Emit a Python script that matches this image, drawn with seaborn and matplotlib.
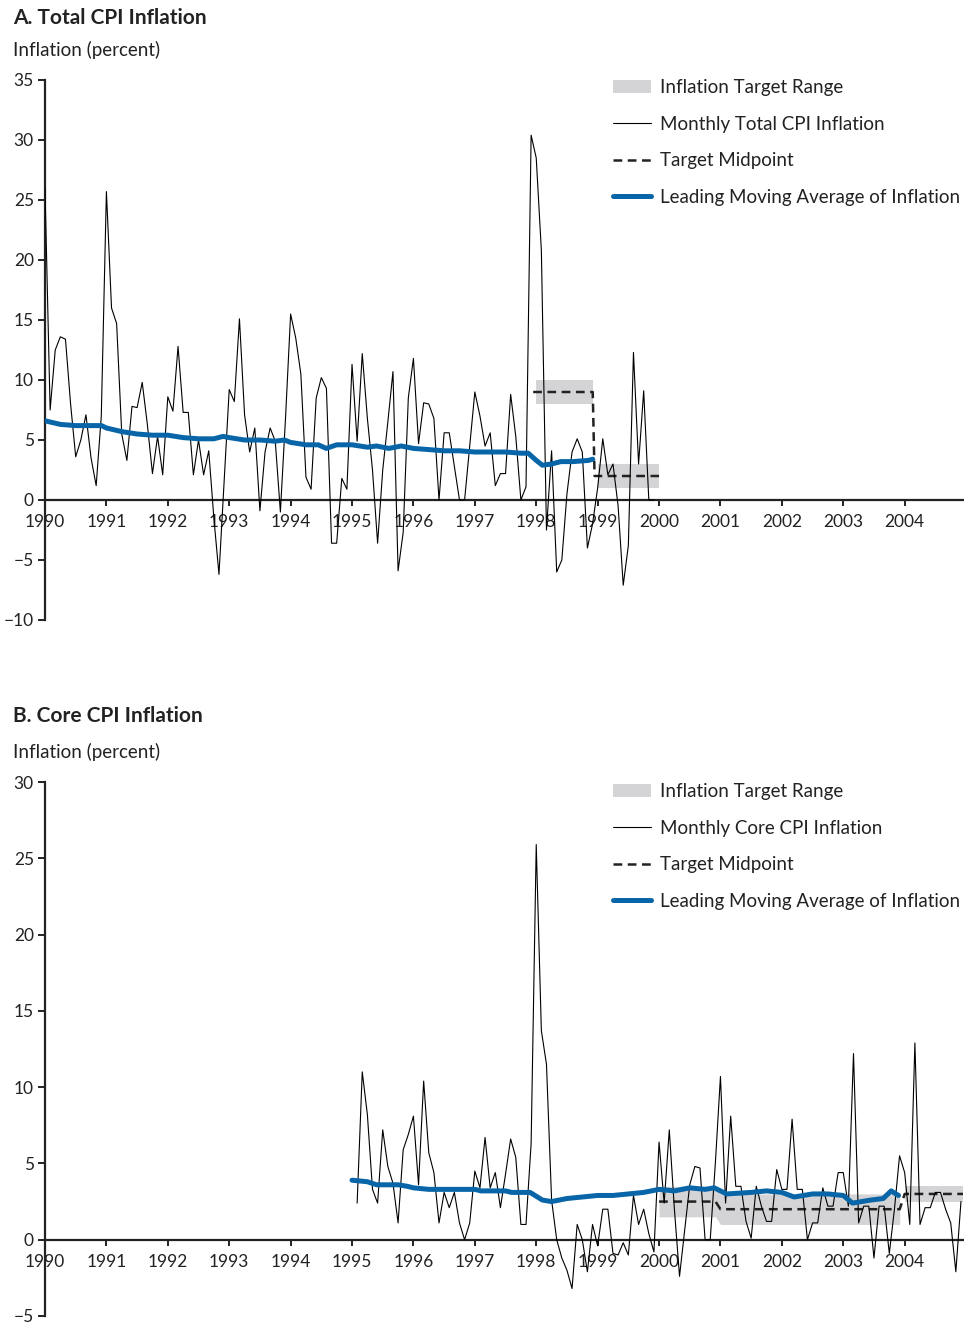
import numpy as np
import matplotlib
matplotlib.use("Agg")
import matplotlib.pyplot as plt
import seaborn as sns
from matplotlib.patches import Patch
from matplotlib.lines import Line2D

# -----------------------------
# Panel A: total CPI, monthly from Jan 1990
# -----------------------------
total_start = 1990.0
total_cpi = [
    26.0, 7.5, 12.5, 13.6, 13.4, 8.0, 3.6, 5.0, 7.1, 3.5, 1.2, 7.0,
    25.7, 16.0, 14.7, 5.5, 3.3, 7.8, 7.7, 9.8, 6.3, 2.2, 5.3, 2.1,
    8.6, 7.4, 12.8, 7.3, 7.3, 2.1, 5.0, 2.1, 4.1, -1.5, -6.2, 1.5,
    9.2, 8.2, 15.1, 7.1, 4.0, 6.0, -0.9, 4.0, 6.0, 4.9, -1.0, 6.8,
    15.5, 13.5, 10.5, 1.9, 0.9, 8.5, 10.2, 9.3, -3.6, -3.6, 1.8, 0.9,
    11.3, 4.9, 12.2, 6.8, 2.5, -3.6, 2.5, 6.5, 10.7, -5.9, -2.7, 8.5,
    11.8, 4.7, 8.1, 8.0, 6.8, 0.0, 5.6, 5.6, 2.8, 0.0, 0.0, 4.5,
    9.0, 7.0, 4.5, 5.6, 1.2, 2.2, 2.2, 8.8, 5.3, 0.0, 1.1, 30.4,
    28.5, 20.8, -2.5, 4.1, -6.0, -5.0, 0.5, 4.0, 5.1, 4.0, -4.0, -2.0,
    1.0, 5.1, 2.1, 3.0, -0.5, -7.1, -3.8, 12.3, 3.0, 9.1, 0.0, 0.0,
]

total_ma_x = [1990.0, 1990.25, 1990.5, 1990.75, 1990.92, 1991.0, 1991.25, 1991.5,
              1991.75, 1992.0, 1992.25, 1992.5, 1992.75, 1992.9, 1993.0, 1993.25,
              1993.5, 1993.75, 1993.9, 1994.0, 1994.25, 1994.45, 1994.58, 1994.75,
              1995.0, 1995.25, 1995.4, 1995.6, 1995.8, 1996.0, 1996.25, 1996.5,
              1996.75, 1997.0, 1997.25, 1997.5, 1997.75, 1997.87, 1998.0, 1998.1,
              1998.25, 1998.4, 1998.6, 1998.85, 1998.92]
total_ma = [6.6, 6.3, 6.2, 6.2, 6.2, 6.0, 5.7, 5.5,
            5.4, 5.4, 5.2, 5.1, 5.1, 5.3, 5.2, 5.0,
            5.0, 4.9, 5.0, 4.8, 4.6, 4.6, 4.3, 4.6,
            4.6, 4.4, 4.5, 4.3, 4.5, 4.3, 4.2, 4.1,
            4.1, 4.0, 4.0, 4.0, 3.9, 3.9, 3.3, 2.9,
            3.0, 3.2, 3.2, 3.3, 3.4]

total_band_x = [[1998.0, 1998.92], [1999.0, 2000.0]]
total_band_lo = [[8.0, 8.0], [1.0, 1.0]]
total_band_hi = [[10.0, 10.0], [3.0, 3.0]]
total_mid_x = [1997.95, 1998.92, 1998.95, 2000.0]
total_mid = [9.0, 9.0, 2.0, 2.0]

# -----------------------------
# Panel B: core CPI, monthly from Feb 1995
# -----------------------------
core_start = 1995.0 + 1 / 12
core_cpi = [
    2.4, 11.0, 8.2, 3.3, 2.4, 7.2, 4.8, 3.7, 1.1, 5.9, 6.9,
    8.1, 3.6, 10.4, 5.7, 4.4, 1.1, 3.1, 2.1, 3.1, 1.1, 0.0, 1.1,
    4.5, 3.4, 6.7, 3.4, 4.4, 2.1, 4.3, 6.6, 5.4, 1.0, 1.0, 6.3,
    25.9, 13.7, 11.5, 2.6, 0.0, -1.2, -2.0, -3.2, 1.0, 0.0, -2.1, 1.0,
    -0.4, 2.0, 2.0, -0.9, -1.0, -0.2, -1.0, 2.9, 1.0, 2.0, 0.4, -0.8,
    6.4, 2.4, 7.2, 2.0, -2.4, 0.6, 3.6, 4.8, 4.7, 0.0, 0.0, 5.0,
    10.7, 2.4, 8.1, 3.5, 3.5, 1.2, 0.1, 3.5, 2.2, 1.2, 1.2, 4.6,
    3.3, 3.3, 7.9, 3.3, 3.3, 0.0, 1.1, 1.1, 3.4, 2.2, 2.2, 4.4,
    4.4, 2.2, 12.2, 1.1, 2.2, 2.2, -1.2, 2.2, 2.2, -0.9, 2.0, 5.5,
    4.4, 1.0, 12.9, 1.0, 2.1, 2.1, 3.1, 3.1, 2.0, 1.1, -2.1, 2.5,
]

core_ma_x = [1995.0, 1995.25, 1995.4, 1995.75, 1995.9, 1996.0, 1996.25, 1996.5,
             1996.75, 1997.0, 1997.1, 1997.5, 1997.6, 1997.9, 1998.1, 1998.25,
             1998.5, 1998.75, 1999.0, 1999.25, 1999.5, 1999.75, 2000.0, 2000.25,
             2000.5, 2000.75, 2000.9, 2001.1, 2001.5, 2001.75, 2002.0, 2002.2,
             2002.5, 2002.75, 2003.0, 2003.15, 2003.45, 2003.65, 2003.78, 2003.9]
core_ma = [3.9, 3.8, 3.6, 3.6, 3.5, 3.4, 3.3, 3.3,
           3.3, 3.3, 3.2, 3.2, 3.1, 3.1, 2.6, 2.5,
           2.7, 2.8, 2.9, 2.9, 3.0, 3.1, 3.3, 3.2,
           3.4, 3.3, 3.4, 3.0, 3.1, 3.2, 3.1, 2.8,
           3.0, 3.0, 2.9, 2.4, 2.6, 2.7, 3.2, 2.9]

core_band_x = [[2000.0, 2000.92, 2001.0, 2003.92], [2004.0, 2004.95]]
core_band_lo = [[1.5, 1.5, 1.0, 1.0], [2.5, 2.5]]
core_band_hi = [[3.5, 3.5, 3.0, 3.0], [3.5, 3.5]]
core_mid_x = [2000.0, 2000.92, 2001.0, 2003.92, 2004.0, 2004.95]
core_mid = [2.5, 2.5, 2.0, 2.0, 3.0, 3.0]

years = list(range(1990, 2005))

# -----------------------------
# Styling
# -----------------------------
sns.set_style("white")
plt.rcParams['font.family'] = ['Lato', 'DejaVu Sans']

BLUE = '#0866a8'
GRAY = '#d4d4d6'
INK = '#222222'

fig = plt.figure(figsize=(9.64, 13.23), dpi=100)
W, H = 964, 1323


def fig_axes(left, right, top, bottom):
    return fig.add_axes([left / W, 1 - bottom / H, (right - left) / W, (bottom - top) / H])


def draw_panel(ax, start, monthly, ma_x, ma, band_x, band_lo, band_hi, mid_x, mid,
               ylim, yticks, line_label):
    for bx, lo, hi in zip(band_x, band_lo, band_hi):
        ax.fill_between(bx, lo, hi, color=GRAY, lw=0, zorder=1)
    mx = start + np.arange(len(monthly)) / 12
    sns.lineplot(x=mx, y=monthly, ax=ax, color='black', lw=0.8, estimator=None, zorder=3)
    sns.lineplot(x=mid_x, y=mid, ax=ax, color=INK, lw=1.8, estimator=None,
                 zorder=2, linestyle=(0, (3.5, 2.2)))
    sns.lineplot(x=ma_x, y=ma, ax=ax, color=BLUE, lw=3.6, estimator=None, zorder=4,
                 solid_capstyle='round')

    ax.set_xlim(1990, 2004.95)
    ax.set_ylim(*ylim)
    ax.set_yticks(yticks)
    ax.set_xticks(years)
    ax.set_xticklabels([str(y) for y in years])
    for s in ['top', 'right']:
        ax.spines[s].set_visible(False)
    ax.spines['bottom'].set_position(('data', 0))
    for s in ['bottom', 'left']:
        ax.spines[s].set_linewidth(1.6)
        ax.spines[s].set_color(INK)
    ax.tick_params(axis='y', direction='out', length=5, width=1.4, pad=3,
                   labelsize=12.5, color=INK, labelcolor=INK, left=True)
    ax.tick_params(axis='x', direction='out', length=4, width=1.4, pad=6,
                   labelsize=12.5, color=INK, labelcolor=INK, bottom=True)
    ax.set_xlabel('')
    ax.set_ylabel('')
    ax.grid(False)
    ax.patch.set_alpha(0)

    handles = [
        Patch(facecolor=GRAY, edgecolor='none'),
        Line2D([], [], color='black', lw=0.8),
        Line2D([], [], color=INK, lw=1.8, linestyle=(0, (3.5, 2.2))),
        Line2D([], [], color=BLUE, lw=3.6, solid_capstyle='round'),
    ]
    labels = ['Inflation Target Range', line_label, 'Target Midpoint',
              'Leading Moving Average of Inflation']
    return handles, labels


def add_legend(handles, labels, top):
    fig.legend(handles, labels, loc='upper right', bbox_to_anchor=(960 / W, 1 - top / H),
               frameon=False, fontsize=13.5, handlelength=2.0, handleheight=0.75,
               handletextpad=0.5, labelspacing=1.05, borderpad=0, borderaxespad=0,
               labelcolor=INK)


# === Panel A
axA = fig_axes(45, 963, 80, 620)
hA, lA = draw_panel(axA, total_start, total_cpi, total_ma_x, total_ma,
                    total_band_x, total_band_lo, total_band_hi, total_mid_x, total_mid,
                    (-10, 35), range(-10, 40, 5), 'Monthly Total CPI Inflation')
add_legend(hA, lA, 79)

fig.text(13 / W, 1 - 18 / H, 'A. Total CPI Inflation', fontsize=15, fontweight='bold',
         va='center', ha='left', color=INK)
fig.text(13 / W, 1 - 50 / H, 'Inflation (percent)', fontsize=13.5, va='center',
         ha='left', color=INK)

# === Panel B
axB = fig_axes(45, 963, 782, 1316)
hB, lB = draw_panel(axB, core_start, core_cpi, core_ma_x, core_ma,
                    core_band_x, core_band_lo, core_band_hi, core_mid_x, core_mid,
                    (-5, 30), range(-5, 35, 5), 'Monthly Core CPI Inflation')
add_legend(hB, lB, 783)

fig.text(13 / W, 1 - 716 / H, 'B. Core CPI Inflation', fontsize=15, fontweight='bold',
         va='center', ha='left', color=INK)
fig.text(13 / W, 1 - 752 / H, 'Inflation (percent)', fontsize=13.5, va='center',
         ha='left', color=INK)

fig.savefig('out.png', dpi=100)
